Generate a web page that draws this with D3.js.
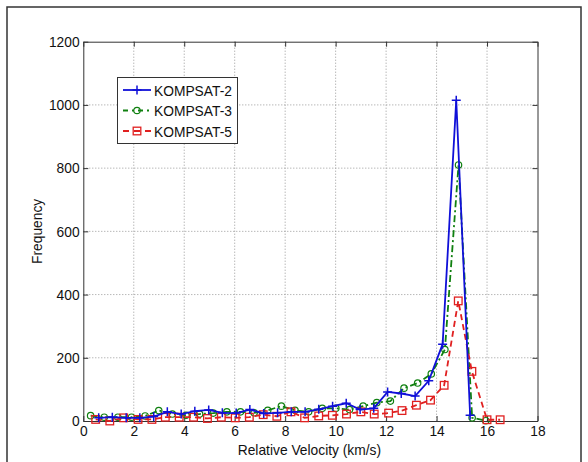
<!DOCTYPE html>
<html>
<head>
<meta charset="utf-8">
<script src="https://cdn.jsdelivr.net/npm/d3@7"></script>
<style>
	body { margin: 0; background: #fff; }
	text { font-family: "Liberation Sans", Arial, sans-serif; }
</style>
</head>
<body>
<svg id="main_svg"></svg>
<script>
const WIDTH = 588;
const HEIGHT = 462;
const AX_LEFT = 83.3;
const AX_RIGHT = 537.5;
const AX_TOP = 41.7;
const AX_BOTTOM = 421;
const FONT_PX = '15px';
const SQUEEZE = 'scale(0.92,1)';

// KOMPSAT-2 (blue, +)
const k2_x = [0.61, 1.15, 1.70, 2.24, 2.79, 3.33, 3.88, 4.42, 4.97, 5.51, 6.06, 6.60, 7.15, 7.70,
	8.24, 8.79, 9.33, 9.88, 10.42, 10.97, 11.51, 12.06, 12.60, 13.15, 13.69, 14.24, 14.78, 15.33];
const k2_y = [10, 12, 10, 10, 14, 29, 22, 31, 35, 26, 25, 36, 24, 26,
	29, 29, 37, 47, 56, 36, 40, 92, 87, 79, 127, 243, 1015, 18];

// KOMPSAT-3 (green, o)
const k3_x = [0.29, 0.83, 1.37, 1.91, 2.45, 2.99, 3.53, 4.07, 4.61, 5.15, 5.69, 6.23, 6.77, 7.31, 7.85,
	8.39, 8.93, 9.47, 10.01, 10.55, 11.09, 11.63, 12.17, 12.71, 13.25, 13.79, 14.33, 14.87, 15.41, 15.95];
const k3_y = [17, 12, 12, 12, 16, 33, 22, 18, 22, 25, 29, 29, 26, 34, 47,
	34, 29, 40, 40, 36, 47, 58, 63, 104, 120, 149, 226, 810, 10, 1];

// KOMPSAT-5 (red, square)
const k5_x = [0.49, 1.05, 1.60, 2.17, 2.72, 3.25, 3.80, 4.37, 4.92, 5.47, 6.02, 6.58, 7.13, 7.67, 8.23,
	8.77, 9.33, 9.87, 10.43, 11.00, 11.53, 12.10, 12.63, 13.20, 13.76, 14.30, 14.86, 15.40, 16.00, 16.52];
const k5_y = [5, 0, 10, 5, 5, 12, 12, 12, 8, 12, 10, 12, 20, 15, 29,
	10, 16, 18, 22, 29, 22, 25, 33, 50, 66, 113, 380, 157, 4, 4];

const series_names = ['KOMPSAT-2', 'KOMPSAT-3', 'KOMPSAT-5'];
const x_ticks = [0, 2, 4, 6, 8, 10, 12, 14, 16, 18];
const y_ticks = [0, 200, 400, 600, 800, 1000, 1200];

const styles = [
	{ color: '#1010d8', dash: null, marker: 'plus' },
	{ color: '#108010', dash: '7,3,2,3', marker: 'circle' },
	{ color: '#e02020', dash: '6,4', marker: 'square' }
];

const svg = d3.select('#main_svg').attr('width', WIDTH).attr('height', HEIGHT);

svg.append('rect').attr('width', WIDTH).attr('height', HEIGHT).attr('fill', '#fff');

// figure border
svg.append('rect')
	.attr('x', 7).attr('y', 7)
	.attr('width', 574).attr('height', 470)
	.attr('fill', 'none').attr('stroke', '#333').attr('stroke-width', 1.5);

const x_scale = d3.scaleLinear().domain([0, 18]).range([AX_LEFT, AX_RIGHT]);
const y_scale = d3.scaleLinear().domain([0, 1200]).range([AX_BOTTOM, AX_TOP]);

// dotted grid
const grid = svg.append('g').attr('stroke', '#999').attr('stroke-width', 1).attr('stroke-dasharray', '1,2');
grid.selectAll('.vg').data(x_ticks.slice(1, -1)).enter().append('line')
	.attr('x1', d => x_scale(d)).attr('x2', d => x_scale(d))
	.attr('y1', AX_TOP).attr('y2', AX_BOTTOM);
grid.selectAll('.hg').data(y_ticks.slice(1, -1)).enter().append('line')
	.attr('x1', AX_LEFT).attr('x2', AX_RIGHT)
	.attr('y1', d => y_scale(d)).attr('y2', d => y_scale(d));

// axes, ticks pointing inward like matlab
const style_axis = g => {
	g.select('.domain').attr('stroke', '#333');
	g.selectAll('.tick line').attr('stroke', '#333');
	g.selectAll('text').attr('fill', '#111').attr('font-size', FONT_PX)
		.attr('transform', SQUEEZE)
		.style('font-family', '"Liberation Sans", Arial, sans-serif');
};

svg.append('g')
	.attr('transform', `translate(0,${AX_BOTTOM})`)
	.call(d3.axisBottom(x_scale).tickValues(x_ticks).tickSizeInner(-5).tickSizeOuter(0).tickPadding(4).tickFormat(d3.format('d')))
	.call(style_axis);

svg.append('g')
	.attr('transform', `translate(0,${AX_TOP})`)
	.call(d3.axisTop(x_scale).tickValues(x_ticks).tickSizeInner(-5).tickSizeOuter(0).tickFormat(''))
	.call(style_axis);

svg.append('g')
	.attr('transform', `translate(${AX_LEFT},0)`)
	.call(d3.axisLeft(y_scale).tickValues(y_ticks).tickSizeInner(-5).tickSizeOuter(0).tickPadding(4).tickFormat(d3.format('d')))
	.call(style_axis);

svg.append('g')
	.attr('transform', `translate(${AX_RIGHT},0)`)
	.call(d3.axisRight(y_scale).tickValues(y_ticks).tickSizeInner(-5).tickSizeOuter(0).tickFormat(''))
	.call(style_axis);

// axis labels
svg.append('text')
	.attr('text-anchor', 'middle')
	.attr('font-size', FONT_PX)
	.attr('fill', '#111')
	.attr('transform', `translate(${(AX_LEFT + AX_RIGHT) / 2 - 1}, 455) ${SQUEEZE}`)
	.text('Relative Velocity (km/s)');

svg.append('text')
	.attr('text-anchor', 'middle')
	.attr('font-size', FONT_PX)
	.attr('fill', '#111')
	.attr('transform', `translate(42, ${(AX_TOP + AX_BOTTOM) / 2}) rotate(-90) ${SQUEEZE}`)
	.text('Frequency');

const draw_marker = (g, type, color, cx, cy) => {
	if (type === 'plus') {
		g.append('path')
			.attr('d', `M${cx - 4.5},${cy}H${cx + 4.5}M${cx},${cy - 4.5}V${cy + 4.5}`)
			.attr('stroke', color).attr('stroke-width', 1.5).attr('fill', 'none');
	} else if (type === 'circle') {
		g.append('circle')
			.attr('cx', cx).attr('cy', cy).attr('r', 3.2)
			.attr('stroke', color).attr('stroke-width', 1.2).attr('fill', 'none');
	} else {
		g.append('rect')
			.attr('x', cx - 3.8).attr('y', cy - 3.8).attr('width', 7.6).attr('height', 7.6)
			.attr('stroke', color).attr('stroke-width', 1.3).attr('fill', 'none');
	}
};

const plot_series = (x_data, y_data, st) => {
	const dataset = x_data.map((e, i) => [e, y_data[i]]);
	const g = svg.append('g');
	const line = d3.line().x(d => x_scale(d[0])).y(d => y_scale(d[1]));
	g.append('path')
		.datum(dataset)
		.attr('d', line)
		.attr('fill', 'none')
		.attr('stroke', st.color)
		.attr('stroke-width', 1.8)
		.attr('stroke-dasharray', st.dash);
	dataset.forEach(d => draw_marker(g, st.marker, st.color, x_scale(d[0]), y_scale(d[1])));
};

plot_series(k3_x, k3_y, styles[1]);
plot_series(k5_x, k5_y, styles[2]);
plot_series(k2_x, k2_y, styles[0]);

// legend
const legend = svg.append('g');
legend.append('rect')
	.attr('x', 117.5).attr('y', 77.5).attr('width', 120).attr('height', 66)
	.attr('fill', '#fff').attr('stroke', '#333').attr('stroke-width', 1);

series_names.forEach((name, i) => {
	const yy = 90 + i * 20.5;
	const st = styles[i];
	legend.append('line')
		.attr('x1', 123).attr('x2', 151).attr('y1', yy).attr('y2', yy)
		.attr('stroke', st.color).attr('stroke-width', 1.8)
		.attr('stroke-dasharray', i === 1 ? '5,4,2,4' : (i === 2 ? '6,5' : null));
	draw_marker(legend, st.marker, st.color, 137, yy);
	legend.append('text')
		.attr('transform', `translate(154, ${yy + 5.5}) ${SQUEEZE}`)
		.attr('font-size', FONT_PX)
		.attr('fill', '#111')
		.text(name);
});
</script>
</body>
</html>
